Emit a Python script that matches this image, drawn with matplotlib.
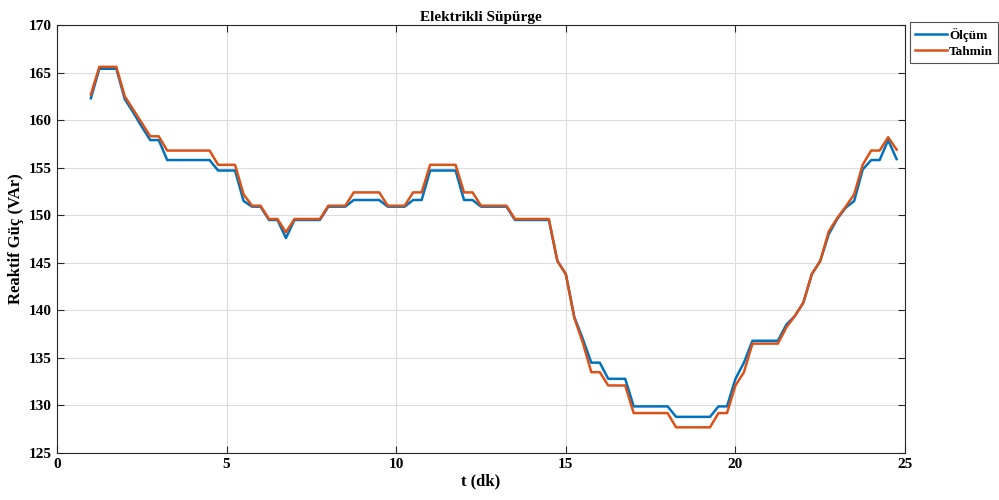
import numpy as np
import matplotlib
matplotlib.use('Agg')
import matplotlib.pyplot as plt

# time axis (minutes), one sample every 0.25 min
t = np.arange(1.0, 25.0, 0.25)

olcum = [162.3, 165.4, 165.4, 165.4, 162.2, 160.8, 159.3, 157.9, 157.9, 155.8,
         155.8, 155.8, 155.8, 155.8, 155.8, 154.7, 154.7, 154.7, 151.5, 150.9,
         150.9, 149.5, 149.5, 147.6, 149.5, 149.5, 149.5, 149.5, 150.9, 150.9,
         150.9, 151.6, 151.6, 151.6, 151.6, 150.9, 150.9, 150.9, 151.6, 151.6,
         154.7, 154.7, 154.7, 154.7, 151.6, 151.6, 150.9, 150.9, 150.9, 150.9,
         149.5, 149.5, 149.5, 149.5, 149.5, 145.2, 143.8, 139.3, 137.0, 134.5,
         134.5, 132.8, 132.8, 132.8, 129.9, 129.9, 129.9, 129.9, 129.9, 128.8,
         128.8, 128.8, 128.8, 128.8, 129.9, 129.9, 132.8, 134.5, 136.8, 136.8,
         136.8, 136.8, 138.5, 139.4, 140.8, 143.8, 145.2, 148.0, 149.6, 150.8,
         151.5, 154.8, 155.8, 155.8, 157.9, 155.9]

tahmin = [162.7, 165.6, 165.6, 165.6, 162.5, 161.1, 159.7, 158.3, 158.3, 156.8,
          156.8, 156.8, 156.8, 156.8, 156.8, 155.3, 155.3, 155.3, 152.2, 151.0,
          151.0, 149.6, 149.6, 148.2, 149.6, 149.6, 149.6, 149.6, 151.0, 151.0,
          151.0, 152.4, 152.4, 152.4, 152.4, 151.0, 151.0, 151.0, 152.4, 152.4,
          155.3, 155.3, 155.3, 155.3, 152.4, 152.4, 151.0, 151.0, 151.0, 151.0,
          149.6, 149.6, 149.6, 149.6, 149.6, 145.2, 143.8, 139.2, 136.6, 133.5,
          133.5, 132.1, 132.1, 132.1, 129.2, 129.2, 129.2, 129.2, 129.2, 127.7,
          127.7, 127.7, 127.7, 127.7, 129.2, 129.2, 132.1, 133.5, 136.5, 136.5,
          136.5, 136.5, 138.2, 139.4, 140.8, 143.8, 145.2, 148.3, 149.7, 150.9,
          152.2, 155.3, 156.8, 156.8, 158.2, 156.9]

xticks = [0, 5, 10, 15, 20, 25]
yticks = list(range(125, 171, 5))

plt.rcParams['font.family'] = ['Liberation Serif', 'DejaVu Serif']
plt.rcParams['font.weight'] = 'bold'

fig = plt.figure(figsize=(9.99, 5.0), dpi=100)
ax = fig.add_axes([0.057, 0.094, 0.849, 0.856])

ax.plot(t, olcum, color='#0072BD', lw=1.8, label='Ölçüm')
ax.plot(t, tahmin, color='#D95319', lw=1.8, label='Tahmin')

ax.set_xlim(0, 25)
ax.set_ylim(125, 170)
ax.set_xticks(xticks)
ax.set_yticks(yticks)
ax.grid(True, color='#dcdcdc', lw=0.8)
ax.set_axisbelow(True)
ax.tick_params(direction='in', top=True, right=True, labelsize=11,
               color='#262626', length=5)
for s in ax.spines.values():
    s.set_color('#262626')
    s.set_linewidth(0.8)

ax.set_title('Elektrikli Süpürge', fontsize=11, fontweight='bold', pad=3)
ax.set_xlabel('t (dk)', fontsize=12, fontweight='bold', labelpad=2)
ax.set_ylabel('Reaktif Güç (VAr)', fontsize=12, fontweight='bold', labelpad=4)

leg = ax.legend(loc='upper left', bbox_to_anchor=(1.006, 1.006), fontsize=9.5,
                frameon=True, fancybox=False, handlelength=2.4,
                handletextpad=0.15, borderpad=0.4, labelspacing=0.3,
                borderaxespad=0)
leg.get_frame().set_edgecolor('#262626')
leg.get_frame().set_linewidth(0.8)

fig.savefig('out.png', dpi=100)
